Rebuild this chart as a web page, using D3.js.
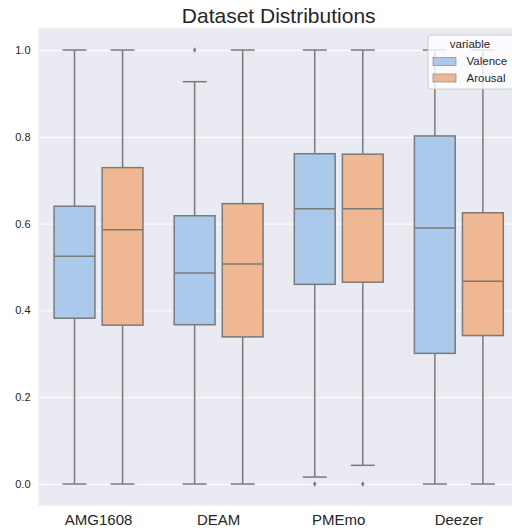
<!DOCTYPE html>
<html>
<head>
<meta charset="utf-8">
<script src="https://cdn.jsdelivr.net/npm/d3@7"></script>
<style>
  html, body { margin: 0; padding: 0; background: #ffffff; }
  svg { display: block; }
  text { font-family: "Liberation Sans", Arial, sans-serif; fill: #262626; }
</style>
</head>
<body>
<svg id="chart" width="512" height="531"></svg>
<script>
// ---- data ----
const categories = ["AMG1608", "DEAM", "PMEmo", "Deezer"];
const seriesNames = ["Valence", "Arousal"];
const yTicks = [0.0, 0.2, 0.4, 0.6, 0.8, 1.0];

const valenceLow    = [0.000, 0.000, 0.016, 0.000];
const valenceQ1     = [0.382, 0.367, 0.460, 0.301];
const valenceMedian = [0.525, 0.486, 0.634, 0.590];
const valenceQ3     = [0.640, 0.618, 0.761, 0.802];
const valenceHigh   = [1.000, 0.927, 1.000, 1.000];
const valenceOut    = [[], [1.0], [0.0], []];

const arousalLow    = [0.000, 0.000, 0.043, 0.000];
const arousalQ1     = [0.366, 0.339, 0.465, 0.342];
const arousalMedian = [0.586, 0.507, 0.634, 0.467];
const arousalQ3     = [0.729, 0.646, 0.760, 0.625];
const arousalHigh   = [1.000, 1.000, 1.000, 1.000];
const arousalOut    = [[], [], [0.0], []];

const colors = ["#abc9ea", "#efb792"];
const lineColor = "#7a7a7a";

// ---- build table ----
const stats = {
  Valence: { low: valenceLow, q1: valenceQ1, med: valenceMedian, q3: valenceQ3, high: valenceHigh, out: valenceOut },
  Arousal: { low: arousalLow, q1: arousalQ1, med: arousalMedian, q3: arousalQ3, high: arousalHigh, out: arousalOut }
};
const boxes = [];
categories.forEach((c, i) => {
  seriesNames.forEach((s, j) => {
    const st = stats[s];
    boxes.push({ cat: c, series: s, si: j, low: st.low[i], q1: st.q1[i], med: st.med[i], q3: st.q3[i], high: st.high[i], out: st.out[i] });
  });
});

// ---- layout ----
const svg = d3.select("#chart");
const plot = { left: 38.5, right: 518.9, top: 28.3, bottom: 505.7 };

const x = d3.scaleBand().domain(categories).range([plot.left, plot.right]).padding(0);
const hue = d3.scaleBand().domain(seriesNames).range([0.1 * x.bandwidth(), 0.9 * x.bandwidth()]).padding(0);
const y = d3.scaleLinear().domain([-0.05, 1.05]).range([plot.bottom, plot.top]);

const boxW = hue.bandwidth() * 0.85;
const capW = boxW * 0.55;

// background
svg.append("rect")
  .attr("x", plot.left).attr("y", plot.top)
  .attr("width", plot.right - plot.left).attr("height", plot.bottom - plot.top)
  .attr("fill", "#eaeaf2");

// y grid + labels via axis
const yAxis = d3.axisLeft(y).tickValues(yTicks).tickFormat(d3.format(".1f"))
  .tickSize(-(plot.right - plot.left)).tickPadding(8);
const gy = svg.append("g").attr("transform", `translate(${plot.left},0)`).call(yAxis);
gy.select(".domain").remove();
gy.selectAll(".tick line").attr("stroke", "#ffffff").attr("stroke-width", 1);
gy.selectAll(".tick text").attr("font-size", 11).attr("fill", "#262626")
  .attr("font-family", "'Liberation Sans', Arial, sans-serif");

// x axis labels
const xAxis = d3.axisBottom(x).tickSize(0).tickPadding(9);
const gx = svg.append("g").attr("transform", `translate(0,${plot.bottom})`).call(xAxis);
gx.select(".domain").remove();
gx.selectAll(".tick text").attr("font-size", 15).attr("fill", "#262626")
  .attr("font-family", "'Liberation Sans', Arial, sans-serif");

// boxes
const g = svg.append("g");
const bx = d => x(d.cat) + hue(d.series) + hue.bandwidth() / 2;

const bg = g.selectAll("g.box").data(boxes).enter().append("g").attr("class", "box");

// whiskers
bg.append("line")
  .attr("x1", bx).attr("x2", bx)
  .attr("y1", d => y(d.q3)).attr("y2", d => y(d.high))
  .attr("stroke", lineColor).attr("stroke-width", 1.5);
bg.append("line")
  .attr("x1", bx).attr("x2", bx)
  .attr("y1", d => y(d.q1)).attr("y2", d => y(d.low))
  .attr("stroke", lineColor).attr("stroke-width", 1.5);
// caps
bg.append("line")
  .attr("x1", d => bx(d) - capW / 2).attr("x2", d => bx(d) + capW / 2)
  .attr("y1", d => y(d.high)).attr("y2", d => y(d.high))
  .attr("stroke", lineColor).attr("stroke-width", 1.5).attr("stroke-linecap", "square");
bg.append("line")
  .attr("x1", d => bx(d) - capW / 2).attr("x2", d => bx(d) + capW / 2)
  .attr("y1", d => y(d.low)).attr("y2", d => y(d.low))
  .attr("stroke", lineColor).attr("stroke-width", 1.5).attr("stroke-linecap", "square");
// box
bg.append("rect")
  .attr("x", d => bx(d) - boxW / 2).attr("width", boxW)
  .attr("y", d => y(d.q3)).attr("height", d => y(d.q1) - y(d.q3))
  .attr("fill", d => colors[d.si]).attr("stroke", lineColor).attr("stroke-width", 1.5);
// median
bg.append("line")
  .attr("x1", d => bx(d) - boxW / 2).attr("x2", d => bx(d) + boxW / 2)
  .attr("y1", d => y(d.med)).attr("y2", d => y(d.med))
  .attr("stroke", lineColor).attr("stroke-width", 1.5);
// outliers (thin diamonds)
bg.each(function(d) {
  d3.select(this).selectAll("path.flier").data(d.out).enter().append("path")
    .attr("class", "flier")
    .attr("d", v => {
      const cx = bx(d), cy = y(v);
      return `M${cx},${cy - 2.8}L${cx + 1.7},${cy}L${cx},${cy + 2.8}L${cx - 1.7},${cy}Z`;
    })
    .attr("fill", lineColor);
});

// title
svg.append("text")
  .attr("x", (plot.left + plot.right) / 2).attr("y", 23)
  .attr("text-anchor", "middle").attr("font-size", 21)
  .text("Dataset Distributions");

// legend
const lg = svg.append("g");
lg.append("rect")
  .attr("x", 428).attr("y", 35).attr("width", 86).attr("height", 54)
  .attr("rx", 3).attr("fill", "#ffffff").attr("fill-opacity", 0.8)
  .attr("stroke", "#cccccc").attr("stroke-width", 1);
lg.append("text").attr("x", 470).attr("y", 48).attr("text-anchor", "middle")
  .attr("font-size", 11.5).text("variable");
seriesNames.forEach((s, j) => {
  const yy = 57.5 + j * 16.5;
  lg.append("rect").attr("x", 433).attr("y", yy).attr("width", 23).attr("height", 8)
    .attr("fill", colors[j]).attr("stroke", lineColor).attr("stroke-width", 0.6);
  lg.append("text").attr("x", 466.5).attr("y", yy + 7.5).attr("font-size", 11.5).text(s);
});
</script>
</body>
</html>
